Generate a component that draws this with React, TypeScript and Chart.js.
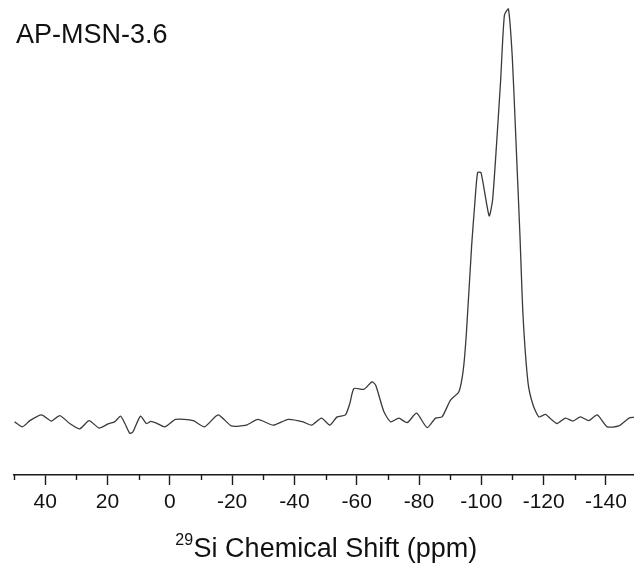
import React, { useEffect, useRef } from "react";
import { Chart, registerables } from "chart.js";

Chart.register(...registerables);

// 29Si chemical shift (ppm) and normalised intensity
const shiftPpm = [
  49.8, 47.3, 44.9, 41.2, 38.0, 35.3, 32.1, 28.9, 25.9, 22.7, 19.8, 17.7, 15.8, 14.4, 12.8, 11.8, 9.4, 7.5, 6.1, 4.3,
  1.6, -1.9, -7.5, -11.2, -15.5, -19.8, -24.6, -28.3, -33.2, -38.0, -42.8, -45.5, -48.7, -51.4, -53.7, -56.4, -57.8,
  -59.1, -62.3, -64.9, -66.1, -68.7, -70.9, -73.5, -76.2, -79.2, -82.6, -85.3, -87.4, -90.1, -92.8, -94.2, -95.2,
  -96.9, -97.9, -98.8, -99.9, -102.5, -103.6, -104.9, -106.2, -107.4, -108.7, -109.9, -110.9, -112.4, -113.4, -115.0,
  -116.6, -118.5, -120.6, -122.3, -124.3, -127.0, -129.4, -131.8, -134.5, -137.2, -140.4, -144.1, -147.4, -149.0,
];
const intensity = [
  -0.2, -1.4, 0.1, 1.5, 0.0, 1.3, -0.6, -1.9, 0.1, -1.7, -0.7, -0.2, 1.2, -0.6, -3.0, -2.6, 1.2, -0.6, -0.1, -0.5,
  -1.4, 0.4, 0.1, -1.4, 1.5, -1.2, -1.0, 0.4, -1.0, 0.4, -0.2, -1.0, 0.7, -1.0, 1.0, 1.5, 4.3,
  7.9, 7.7, 9.5, 8.7, 2.3, -0.2, 0.7, -0.4, 1.9, -1.6, 0.7, 1.0, 5.1, 7.1, 12.4, 21.3,
  42.7, 52.8, 60.3, 60.3, 49.8, 53.6, 67.4, 82.8, 98.5, 100.0, 88.8, 71.8, 44.9, 25.3, 9.2,
  3.9, 1.0, 1.6, 0.5, -0.6, 0.7, 0.0, 1.0, 0.1, 1.5, -1.4, -1.2, 0.7, 0.9,
];

const majorTicks = [40, 20, 0, -20, -40, -60, -80, -100, -120, -140];
const minorTicks = [50, 30, 10, -10, -30, -50, -70, -90, -110, -130];
const sampleName = "AP-MSN-3.6";
const axisTitleSup = "29";
const axisTitleMain = "Si Chemical Shift (ppm)";

const FONT = '"Liberation Sans", Arial, sans-serif';

export default function App() {
  const ref = useRef<HTMLCanvasElement>(null);

  useEffect(() => {
    const canvas = ref.current;
    if (!canvas) return;

    const extras = {
      id: "extras",
      afterDraw(chart: any) {
        const ctx = chart.ctx as CanvasRenderingContext2D;
        const xs = chart.scales.x;
        const area = chart.chartArea;
        ctx.save();
        ctx.strokeStyle = "#1a1a1a";
        ctx.lineWidth = 1.4;
        for (const v of minorTicks) {
          const px = Math.round(xs.getPixelForValue(v)) + 0.5;
          ctx.beginPath();
          ctx.moveTo(px, area.bottom);
          ctx.lineTo(px, area.bottom + 5);
          ctx.stroke();
        }
        ctx.fillStyle = "#111";
        ctx.textAlign = "left";
        ctx.textBaseline = "alphabetic";
        ctx.font = `27px ${FONT}`;
        ctx.fillText(sampleName, 16, 43);

        ctx.font = `27px ${FONT}`;
        const mainW = ctx.measureText(axisTitleMain).width;
        ctx.font = `16px ${FONT}`;
        const supW = ctx.measureText(axisTitleSup).width;
        const start = 326 - (mainW + supW) / 2;
        ctx.fillText(axisTitleSup, start, 545);
        ctx.font = `27px ${FONT}`;
        ctx.fillText(axisTitleMain, start + supW + 0.5, 557);
        ctx.restore();
      },
    };

    const chart = new Chart(canvas, {
      type: "scatter",
      data: {
        datasets: [
          {
            data: shiftPpm.map((x, i) => ({ x, y: intensity[i] })),
            showLine: true,
            borderColor: "#3a3a3a",
            borderWidth: 1.3,
            pointRadius: 0,
            tension: 0.2,
            fill: false,
          },
        ],
      },
      options: {
        responsive: false,
        animation: false,
        devicePixelRatio: 1,
        layout: { padding: { left: 14, right: 0, top: 0, bottom: 0 } },
        plugins: { legend: { display: false }, tooltip: { enabled: false }, title: { display: false } },
        scales: {
          x: {
            type: "linear",
            reverse: true,
            min: -149,
            max: 50,
            afterBuildTicks: (scale: any) => {
              scale.ticks = majorTicks.map((v) => ({ value: v }));
            },
            afterFit: (scale: any) => {
              scale.height = 91;
            },
            grid: {
              display: true,
              drawOnChartArea: false,
              drawTicks: true,
              tickLength: 10,
              tickColor: "#1a1a1a",
              tickWidth: 1.4,
            },
            border: { display: true, color: "#1a1a1a", width: 1.4 },
            ticks: {
              autoSkip: false,
              maxRotation: 0,
              padding: 5,
              color: "#111",
              font: { family: FONT, size: 21 },
              callback: (v: any) => String(v),
            },
          },
          y: {
            display: false,
            min: -13.1,
            max: 102.2,
          },
        },
      },
      plugins: [extras],
    });

    return () => chart.destroy();
  }, []);

  return (
    <div style={{ position: "fixed", left: 0, top: 0, width: 634, height: 566, background: "#fff" }}>
      <canvas ref={ref} width={634} height={566} style={{ display: "block" }} />
    </div>
  );
}
